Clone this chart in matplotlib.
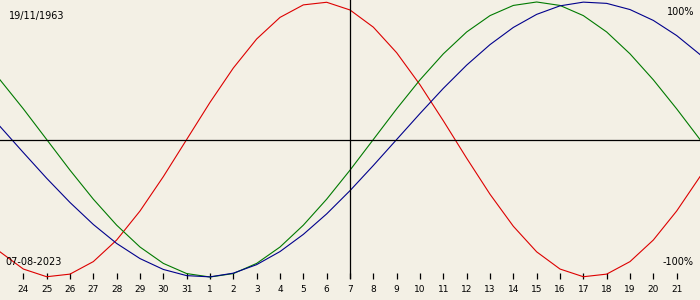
import matplotlib
matplotlib.use("Agg")
import matplotlib.pyplot as plt
import numpy as np

# Biorhythm chart, 23 Jul .. 22 Aug 2023, values in percent read per day
birth_date = "19/11/1963"
today_label = "07-08-2023"
day_labels = [23, 24, 25, 26, 27, 28, 29, 30, 31, 1, 2, 3, 4, 5, 6, 7,
              8, 9, 10, 11, 12, 13, 14, 15, 16, 17, 18, 19, 20, 21, 22]
today_index = 15

physical = [-81.7, -94.2, -99.8, -97.9, -88.8, -73.1, -52.0, -27.0, 0.0,
            27.0, 52.0, 73.1, 88.8, 97.9, 99.8, 94.2, 81.7, 63.1, 39.8,
            13.6, -13.6, -39.8, -63.1, -81.7, -94.2, -99.8, -97.9, -88.8,
            -73.1, -52.0, -27.0]
emotional = [43.4, 22.3, 0.0, -22.3, -43.4, -62.3, -78.2, -90.1, -97.5,
             -100.0, -97.5, -90.1, -78.2, -62.3, -43.4, -22.3, 0.0, 22.3,
             43.4, 62.3, 78.2, 90.1, 97.5, 100.0, 97.5, 90.1, 78.2, 62.3,
             43.4, 22.3, 0.0]
intellectual = [9.5, -9.5, -28.2, -45.8, -61.8, -75.6, -86.6, -94.5, -99.0,
                -99.9, -97.2, -91.0, -81.5, -69.0, -54.1, -37.2, -18.9, 0.0,
                18.9, 37.2, 54.1, 69.0, 81.5, 91.0, 97.2, 99.9, 99.0, 94.5,
                86.6, 75.6, 61.8]

bg = '#f3f0e5'
x = np.arange(len(day_labels))

fig = plt.figure(figsize=(7, 3), dpi=100, facecolor=bg)
ax = fig.add_axes([0, 21 / 300, 1, 279 / 300])
ax.set_facecolor(bg)

ax.plot(x, physical, color='#dd0000', lw=0.8)
ax.plot(x, emotional, color='#007a00', lw=0.8)
ax.plot(x, intellectual, color='#00008c', lw=0.8)

ax.axhline(0, color='black', lw=0.9)
ax.axvline(today_index, color='black', lw=0.9)

ax.set_xlim(0, len(day_labels) - 1)
ax.set_ylim(-101.45, 101.45)

tick_pos = x[1:-1]
ax.set_xticks(tick_pos)
ax.set_xticklabels([str(d) for d in day_labels[1:-1]], fontsize=6.5)
ax.tick_params(axis='x', direction='in', length=4, width=0.9, pad=4,
               colors='black')
ax.set_yticks([])
for s in ax.spines.values():
    s.set_visible(False)

fig.text(9 / 700, 1 - 16 / 300, birth_date, fontsize=7, va='center',
         ha='left')
fig.text(5 / 700, 1 - 262 / 300, today_label, fontsize=7, va='center',
         ha='left')
fig.text(694 / 700, 1 - 12 / 300, '100%', fontsize=7, va='center',
         ha='right')
fig.text(694 / 700, 1 - 262 / 300, '-100%', fontsize=7, va='center',
         ha='right')

fig.savefig('out.png', dpi=100, facecolor=bg)
